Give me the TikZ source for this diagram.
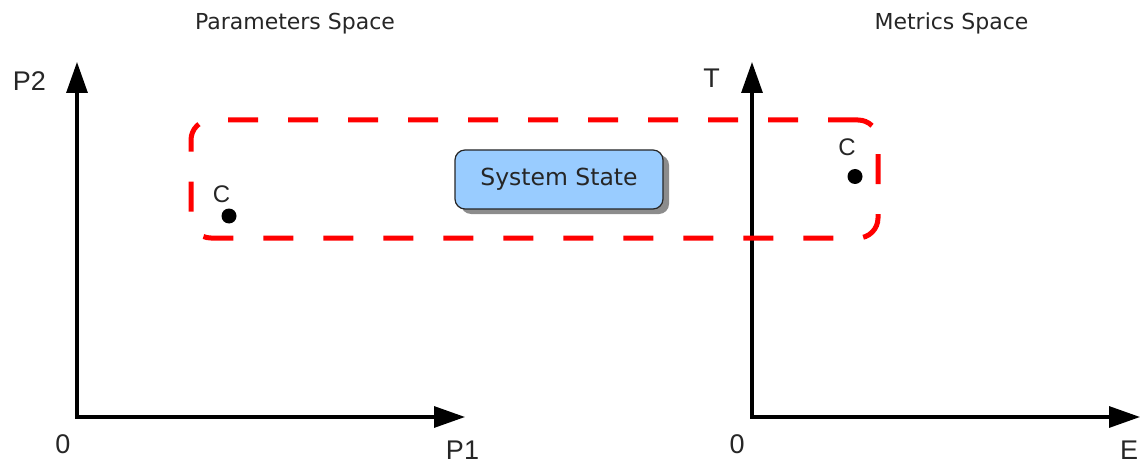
\documentclass[tikz,border=0pt]{standalone}
\usepackage{fontspec}
\setmainfont{Liberation Sans}
\newfontfamily\titlefont{DejaVu Sans}
\usetikzlibrary{arrows.meta,shadows}
\definecolor{statefill}{RGB}{153,204,255}
\definecolor{groupred}{RGB}{255,0,0}
\begin{document}
\begin{tikzpicture}[x=1pt,y=-1pt,
    axis/.style={line width=3.2pt, {Triangle[length=31pt,width=21pt]}-{Triangle[length=31pt,width=21pt]}},
    axislabel/.style={font=\fontsize{27}{27}\selectfont, inner sep=0pt, text=black!85},
    spacetitle/.style={font=\titlefont\fontsize{22}{22}\selectfont, inner sep=0pt, anchor=base, text=black!85},
    pointlabel/.style={font=\fontsize{24}{24}\selectfont, inner sep=0pt, text=black!85},
    dot/.style={circle, fill=black, minimum size=15pt, inner sep=0pt}]
  \useasboundingbox (0,0) rectangle (1142,465);
  \node[spacetitle] (ptitle) at (295,30) {Parameters Space};
  \node[spacetitle] (mtitle) at (951.5,30) {Metrics Space};
  \coordinate (po) at (77,417);
  \coordinate (pytip) at (77,62);
  \coordinate (pxtip) at (465,417);
  \coordinate (mo) at (752,417);
  \coordinate (mytip) at (752,62);
  \coordinate (mxtip) at (1140,417);
  \draw[axis] (pytip) -- (po) -- (pxtip);
  \draw[axis] (mytip) -- (mo) -- (mxtip);
  \node[axislabel] (p2) at (29.5,81) {P2};
  \node[axislabel] (p1) at (462.5,450) {P1};
  \node[axislabel] (pzero) at (63,444.5) {0};
  \node[axislabel] (t) at (711.5,78.5) {T};
  \node[axislabel] (e) at (1129,450) {E};
  \node[axislabel] (mzero) at (737,444.5) {0};
  \node[draw=groupred, line width=5pt, dash pattern=on 30pt off 30pt, rounded corners=20pt,
        minimum width=687pt, minimum height=118pt, inner sep=0pt] (group) at (534.5,179) {};
  \node[dot] (pc) at (229,216) {};
  \node[pointlabel] (pclabel) at (221.5,194.5) {C};
  \node[dot] (mc) at (855,176.5) {};
  \node[pointlabel] (mclabel) at (847,147.5) {C};
  \node[draw=black!85, line width=1.2pt, fill=statefill, rounded corners=10pt,
        minimum width=208pt, minimum height=59pt, font=\titlefont\fontsize{23.5}{23.5}\selectfont,
        text=black!85, drop shadow={shadow xshift=6pt, shadow yshift=-5pt, fill=black!45, opacity=1}] (state) at (559,179.5) {System State};
\end{tikzpicture}
\end{document}
